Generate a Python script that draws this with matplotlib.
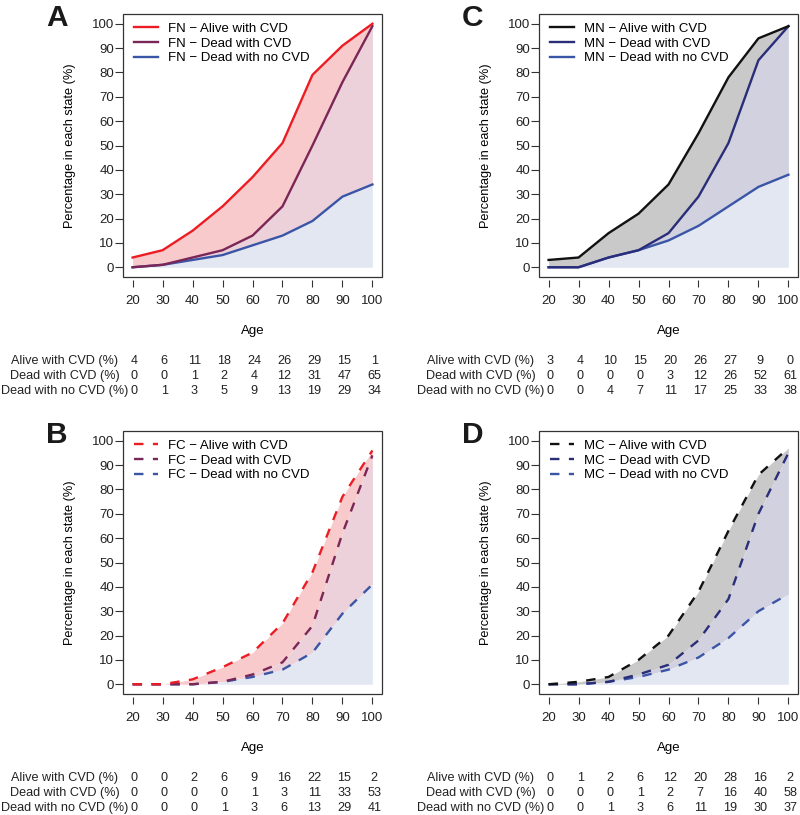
import matplotlib
matplotlib.use('Agg')
import matplotlib.pyplot as plt
import numpy as np
from matplotlib.patches import Rectangle

plt.rcParams['font.family'] = ['Liberation Sans', 'DejaVu Sans']

ages = [20, 30, 40, 50, 60, 70, 80, 90, 100]
row_names = ['Alive with CVD (%)', 'Dead with CVD (%)', 'Dead with no CVD (%)']

# panel A: females, non-carriers
fn_alive = [4, 6, 11, 18, 24, 26, 29, 15, 1]
fn_dead_cvd = [0, 0, 1, 2, 4, 12, 31, 47, 65]
fn_dead_other = [0, 1, 3, 5, 9, 13, 19, 29, 34]
# panel B: females, carriers
fc_alive = [0, 0, 2, 6, 9, 16, 22, 15, 2]
fc_dead_cvd = [0, 0, 0, 0, 1, 3, 11, 33, 53]
fc_dead_other = [0, 0, 0, 1, 3, 6, 13, 29, 41]
# panel C: males, non-carriers
mn_alive = [3, 4, 10, 15, 20, 26, 27, 9, 0]
mn_dead_cvd = [0, 0, 0, 0, 3, 12, 26, 52, 61]
mn_dead_other = [0, 0, 4, 7, 11, 17, 25, 33, 38]
# panel D: males, carriers
mc_alive = [0, 1, 2, 6, 12, 20, 28, 16, 2]
mc_dead_cvd = [0, 0, 0, 1, 2, 7, 16, 40, 58]
mc_dead_other = [0, 0, 1, 3, 6, 11, 19, 30, 37]

red_cols = ['#ec1c24', '#7a2656', '#3b55a6']
red_fills = ['#f9cacb', '#ecd1da', '#e3e7f2']
blk_cols = ['#111111', '#2a2d78', '#3b55a6']
blk_fills = ['#c9c9c9', '#d2d1e0', '#e3e7f2']

W, H = 800, 815
fig = plt.figure(figsize=(W / 100, H / 100), dpi=100)

panels = [
    ('A', 'FN', fn_alive, fn_dead_cvd, fn_dead_other, red_cols, red_fills, '-', 123, 14),
    ('C', 'MN', mn_alive, mn_dead_cvd, mn_dead_other, blk_cols, blk_fills, '-', 539, 14),
    ('B', 'FC', fc_alive, fc_dead_cvd, fc_dead_other, red_cols, red_fills, '--', 123, 431),
    ('D', 'MC', mc_alive, mc_dead_cvd, mc_dead_other, blk_cols, blk_fills, '--', 539, 431),
]

aw, ah = 259, 263
frame_col = '#333333'
fs = 9.5
tfs = 9.1

for letter, code, alive, dcvd, dother, cols, fills, ls, left, top in panels:
    ax = fig.add_axes([left / W, 1 - (top + ah) / H, aw / W, ah / H])
    bottom_line = np.array(dother)
    mid_line = bottom_line + np.array(dcvd)
    top_line = mid_line + np.array(alive)

    ax.fill_between(ages, mid_line, top_line, color=fills[0], lw=0, zorder=1)
    ax.fill_between(ages, bottom_line, mid_line, color=fills[1], lw=0, zorder=1)
    ax.fill_between(ages, 0, bottom_line, color=fills[2], lw=0, zorder=1)

    kw = dict(lw=1.7)
    if ls == '--':
        kw['dashes'] = (4, 4)
    ax.plot(ages, top_line, color=cols[0], label=code + ' \u2212 Alive with CVD', zorder=3.2, **kw)
    ax.plot(ages, mid_line, color=cols[1], label=code + ' \u2212 Dead with CVD', zorder=3.1, **kw)
    ax.plot(ages, bottom_line, color=cols[2], label=code + ' \u2212 Dead with no CVD', zorder=3, **kw)

    ax.set_xlim(16.8, 103.2)
    ax.set_ylim(-4, 104)
    ax.set_xticks(ages)
    ax.set_yticks(range(0, 101, 10))
    ax.tick_params(axis='y', direction='out', length=5.5, width=0.8, pad=1,
                   labelsize=fs, color=frame_col, labelcolor='#222222')
    ax.tick_params(axis='x', direction='out', length=5, width=0.8, pad=6,
                   labelsize=fs, color=frame_col, labelcolor='#222222')
    for s in ax.spines.values():
        s.set_visible(False)
    ax.spines['bottom'].set_position(('outward', 2.2))
    ax.add_patch(Rectangle((0, 0), 1, 1, transform=ax.transAxes, fill=False,
                           ec=frame_col, lw=0.9, clip_on=False, zorder=5))

    ax.set_ylabel('Percentage in each state (%)', fontsize=9.2)
    ax.yaxis.set_label_coords(-0.181, 0.5)
    ax.set_xlabel('Age', fontsize=fs)
    ax.xaxis.set_label_coords(0.5, -0.184)

    ax.legend(loc='upper left', bbox_to_anchor=(0.042, 0.967), frameon=False,
              fontsize=fs, handlelength=1.85, handletextpad=0.75,
              labelspacing=0.18, borderpad=0, borderaxespad=0)

    # table of state percentages below the axis
    tr = ax.get_xaxis_transform()
    row_y = [-0.321, -0.378, -0.435]
    for name, vals, yy in zip(row_names, [alive, dcvd, dother], row_y):
        ax.text(-0.224, yy, name, transform=ax.transAxes, ha='center', va='center',
                fontsize=tfs, color='#222222')
        for a, v in zip(ages, vals):
            ax.text(a + 0.6, yy, str(v), transform=tr, ha='center', va='center',
                    fontsize=tfs, color='#222222')

    fig.text((left - 77) / W, 1 - (top - 10) / H, letter, ha='left', va='top',
             fontsize=21.5, fontweight='bold', color='#1a1a1a')

fig.savefig('out.png', dpi=100)
